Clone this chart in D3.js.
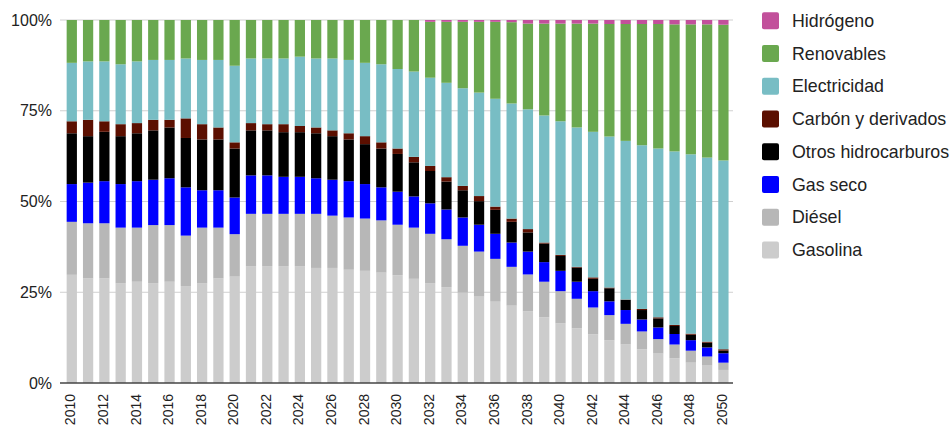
<!DOCTYPE html>
<html><head><meta charset="utf-8">
<script src="https://cdn.jsdelivr.net/npm/d3@7"></script>
<style>
body{margin:0;background:#fff;}
text{font-family:"Liberation Sans",Arial,Helvetica,sans-serif;fill:#222;}
</style>
</head><body>
<svg id="chart" width="952" height="434"></svg>
<script>
const years = [2010,2011,2012,2013,2014,2015,2016,2017,2018,2019,2020,2021,2022,2023,2024,2025,2026,2027,2028,2029,2030,2031,2032,2033,2034,2035,2036,2037,2038,2039,2040,2041,2042,2043,2044,2045,2046,2047,2048,2049,2050];

const gasolina = [29.8,28.8,28.8,27.5,27.9,27.5,27.9,26.7,27.5,28.8,29.3,32.2,32.2,32.2,32.2,31.7,31.7,31.2,30.9,30.4,29.7,28.7,27.5,26.4,24.9,23.8,22.4,21.3,19.7,18.1,16.4,15.1,13.4,11.8,10.6,9.3,8.1,6.8,5.6,4.8,3.6];
const diesel = [14.6,15.2,15.2,15.3,14.9,16.0,15.6,13.9,15.3,14.0,11.7,14.4,14.4,14.4,14.4,14.9,14.4,14.4,14.4,14.4,13.9,14.1,13.6,13.2,12.9,12.4,11.8,10.7,10.2,9.8,8.9,8.1,7.4,6.9,5.7,4.9,4.0,3.8,3.3,2.5,2.0];
const gasSeco = [10.4,11.2,11.6,12.0,12.8,12.5,12.9,13.3,10.3,10.3,10.1,10.6,10.6,10.2,10.2,9.8,9.9,10.0,9.5,9.1,9.1,8.6,8.4,8.2,7.8,7.4,6.9,6.7,6.3,5.4,5.6,4.7,4.5,3.8,3.8,3.3,3.2,2.9,2.9,2.5,2.6];
const otrosHidrocarburos = [14.0,12.8,13.6,13.2,13.2,13.6,14.0,13.6,14.0,14.0,13.5,12.4,12.4,12.3,12.3,12.4,12.0,11.5,11.0,10.7,10.4,9.4,8.9,7.7,7.5,6.5,6.6,5.7,5.3,5.1,4.1,3.9,3.4,3.6,2.8,2.6,2.5,2.2,1.5,1.3,0.7];
const carbon = [3.3,4.5,2.9,3.3,2.8,2.9,2.1,5.4,4.2,3.3,1.7,2.0,1.7,2.2,1.7,1.6,1.6,1.7,2.2,1.7,1.5,1.5,1.4,1.2,1.2,1.4,0.9,0.9,0.9,0.3,0.3,0.2,0.4,0.2,0.1,0.3,0.3,0.3,0.3,0.3,0.4];
const electricidad = [16.1,16.1,16.5,16.5,17.0,16.5,16.5,16.5,17.7,18.6,21.1,17.8,18.1,18.1,19.1,19.0,19.8,20.2,20.2,21.5,21.9,23.5,24.3,26.0,26.9,28.5,29.7,31.7,33.0,35.0,36.8,38.4,40.1,41.6,43.7,45.1,46.5,47.8,49.4,50.7,52.0];
const renovables = [11.8,11.4,11.4,12.2,11.4,11.0,11.0,10.6,11.0,11.0,12.6,10.6,10.6,10.6,10.1,10.6,10.6,11.0,11.8,12.2,13.5,14.2,15.4,16.8,18.3,19.5,21.2,22.4,23.6,25.3,26.9,28.6,29.8,31.0,32.2,33.4,34.3,35.0,35.8,36.7,37.4];
const hidrogeno = [0,0,0,0,0,0,0,0,0,0,0,0,0,0,0,0,0,0,0,0,0,0,0.5,0.5,0.5,0.5,0.5,0.6,1.0,1.0,1.0,1.0,1.0,1.1,1.1,1.1,1.1,1.2,1.2,1.2,1.3];

const seriesNames = ["Gasolina","Diésel","Gas seco","Otros hidrocarburos","Carbón y derivados","Electricidad","Renovables","Hidrógeno"];
const seriesColors = ["#cccccc","#b7b7b7","#0000ff","#000000","#5b0f00","#78bdc4","#6aa84f","#c2509b"];
const seriesValues = [gasolina,diesel,gasSeco,otrosHidrocarburos,carbon,electricidad,renovables,hidrogeno];
const yTicks = [0,0.25,0.5,0.75,1];
const xTickLabels = [2010,2012,2014,2016,2018,2020,2022,2024,2026,2028,2030,2032,2034,2036,2038,2040,2042,2044,2046,2048,2050];

const table = years.map((y,i)=>{
  const row = {year:y};
  seriesNames.forEach((n,k)=>row[n]=seriesValues[k][i]);
  return row;
});

const svg = d3.select("#chart");
const x = d3.scaleBand().domain(years).range([63.4,731.8]).paddingInner(0.37).paddingOuter(0.2);
const y = d3.scaleLinear().domain([0,1]).range([383,20]);
const color = d3.scaleOrdinal().domain(seriesNames).range(seriesColors);

// grid
svg.append("g").selectAll("line").data(yTicks.filter(t=>t>0)).join("line")
  .attr("x1",60).attr("x2",733).attr("y1",d=>y(d)).attr("y2",d=>y(d))
  .attr("stroke","#d0d0d0").attr("stroke-width",1);

const stacked = d3.stack().keys(seriesNames).offset(d3.stackOffsetExpand)(table);
svg.append("g").selectAll("g").data(stacked).join("g")
  .attr("fill",d=>color(d.key))
  .selectAll("rect").data(d=>d).join("rect")
  .attr("x",d=>x(d.data.year)).attr("width",x.bandwidth())
  .attr("y",d=>y(d[1])).attr("height",d=>Math.max(0,y(d[0])-y(d[1])));

// axis line
svg.append("line").attr("x1",60).attr("x2",733).attr("y1",y(0)).attr("y2",y(0))
  .attr("stroke","#444").attr("stroke-width",1.3);

// y labels
svg.append("g").selectAll("text").data(yTicks).join("text")
  .attr("x",52).attr("y",d=>y(d)).attr("dy","0.35em").attr("text-anchor","end")
  .style("font-size","16px").text(d=>d3.format(".0%")(d));

// x labels
svg.append("g").selectAll("text").data(xTickLabels).join("text")
  .attr("transform",d=>`translate(${x(d)+x.bandwidth()/2-1.3},394) rotate(-90)`)
  .attr("dy","0.35em").attr("text-anchor","end")
  .style("font-size","14px").text(d=>d);

// legend
const legendOrder = seriesNames.slice().reverse();
const lg = svg.append("g").selectAll("g").data(legendOrder).join("g")
  .attr("transform",(d,i)=>`translate(762,${20.7+i*32.75})`);
lg.append("rect").attr("x",0).attr("y",-8.5).attr("width",17).attr("height",17).attr("rx",2)
  .attr("fill",d=>color(d));
lg.append("text").attr("x",30).attr("y",0).attr("dy","0.35em")
  .style("font-size","17.8px").text(d=>d);
</script>
</body></html>
